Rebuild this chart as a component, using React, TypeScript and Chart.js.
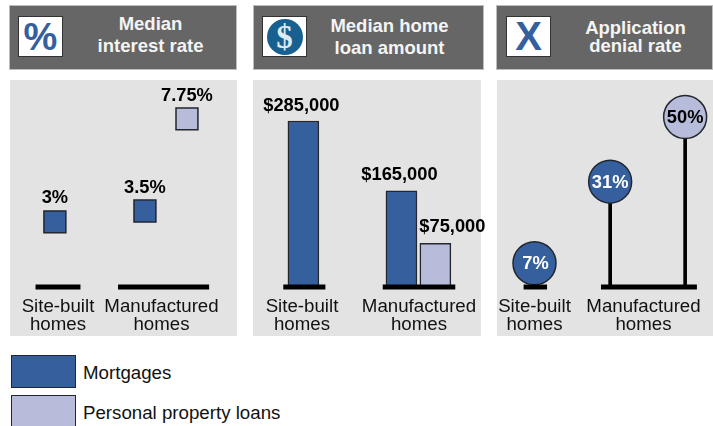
import React, { useEffect, useRef } from "react";
import { Chart, registerables } from "chart.js";

Chart.register(...registerables);

const categories = ["Site-built homes", "Manufactured homes"];
const categoryLines = [["Site-built", "homes"], ["Manufactured", "homes"]];
const seriesNames = ["Mortgages", "Personal property loans"];

const rateMortgages = [3, 3.5];
const ratePersonal = [null, 7.75];
const rateMortgageLabels = ["3%", "3.5%"];
const ratePersonalLabels = ["", "7.75%"];

const amountMortgages = [285000, 165000];
const amountPersonal = [null, 75000];
const amountMortgageLabels = ["$285,000", "$165,000"];
const amountPersonalLabels = ["", "$75,000"];

const denialMortgages = [7, 31];
const denialPersonal = [null, 50];
const denialMortgageLabels = ["7%", "31%"];
const denialPersonalLabels = ["", "50%"];

const BLUE = "#365f9e";
const LILAC = "#b7bcdb";
const EDGE = "#22262e";
const FONT = '"Liberation Sans", Arial, sans-serif';
const PAD = 25; // canvas bleed around each panel, absorbs the points' overflow padding

const valueLabelPlugin = {
  id: "valueLabels",
  afterDatasetsDraw(chart: any) {
    const ctx = chart.ctx;
    chart.data.datasets.forEach((ds: any, i: number) => {
      if (!ds.valueLabels) return;
      const meta = chart.getDatasetMeta(i);
      ds.valueLabels.forEach((text: string, j: number) => {
        const el = meta.data[j];
        if (!text || !el) return;
        const off = ds.labelOffsets[j];
        ctx.save();
        ctx.font = `bold 18.3px ${FONT}`;
        ctx.textAlign = "center";
        ctx.textBaseline = "middle";
        ctx.fillStyle = ds.labelColors ? ds.labelColors[j] : "#000";
        ctx.fillText(text, el.x + off[0], el.y + off[1]);
        ctx.restore();
      });
    });
  },
};

const baseline = (a: number, b: number) => ({
  type: "line",
  data: [{ x: a, y: 0 }, { x: b, y: 0 }],
  borderColor: "#000",
  borderWidth: 5,
  borderCapStyle: "butt",
  pointRadius: 0,
  clip: false,
  order: 0,
});

// Each mark sits at its category index plus a small offset inside the group.
const xy = (vals: (number | null)[], offsets: number[]) =>
  vals.map((v, i) => ({ x: i + offsets[i], y: v }));

function baseConfig(datasets: any[], siteMinMax: [number, number], yMax: number) {
  return {
    type: "bar",
    data: { datasets },
    plugins: [valueLabelPlugin],
    options: {
      animation: false,
      responsive: false,
      layout: { padding: { left: PAD, right: PAD, top: PAD, bottom: 0 } },
      plugins: { legend: { display: false }, tooltip: { enabled: false }, title: { display: false } },
      scales: {
        x: {
          type: "linear",
          bounds: "data",
          offset: false,
          min: siteMinMax[0],
          max: siteMinMax[1],
          grid: { display: false, drawTicks: false, offset: false },
          border: { display: false },
          afterBuildTicks: (s: any) => {
            s.ticks = categoryLines.map((_, i) => ({ value: i }));
          },
          afterFit: (s: any) => {
            s.height = 49;
            s.paddingLeft = 0;
            s.paddingRight = 0;
          },
          ticks: {
            autoSkip: false,
            maxRotation: 0,
            minRotation: 0,
            padding: 11,
            color: "#111",
            font: { family: FONT, size: 18.7, lineHeight: 0.96 },
            callback: (v: number) => categoryLines[v] ?? "",
          },
        },
        y: { display: false, min: 0, max: yMax },
      },
    },
  };
}

// Panel geometry: [left, width, site-built centre, manufactured centre]
const range = (left: number, width: number, s: number, m: number): [number, number] => [
  (left - s) / (m - s),
  (left + width - s) / (m - s),
];

const square = (vals: any[], xs: number[], color: string, labels: string[], label: string) => ({
  type: "line",
  label,
  data: xy(vals, xs),
  showLine: false,
  pointStyle: "rect",
  pointRadius: 15.5,
  pointBackgroundColor: color,
  pointBorderColor: EDGE,
  pointBorderWidth: 1.5,
  clip: false,
  order: 1,
  valueLabels: labels,
  labelOffsets: [[0, -23.5], [0, -23]],
});

const rateX = { m: [-0.03, -0.16], p: [0, 0.246] };
const rateConfig = baseConfig(
  [
    baseline(-0.217, 0.217),
    baseline(1 - 0.42, 1 + 0.46),
    square(rateMortgages, rateX.m, BLUE, rateMortgageLabels, seriesNames[0]),
    square(ratePersonal, rateX.p, LILAC, ratePersonalLabels, seriesNames[1]),
  ],
  range(10, 227, 58, 161.5),
  9.54
);

const bar = (vals: any[], xs: number[], color: string, labels: string[], offs: number[][], label: string) => ({
  type: "bar",
  label,
  grouped: false,
  data: xy(vals, xs),
  backgroundColor: color,
  borderColor: EDGE,
  borderWidth: 1.5,
  borderSkipped: false,
  barThickness: 31,
  order: 1,
  valueLabels: labels,
  labelOffsets: offs,
});

const amountConfig = baseConfig(
  [
    baseline(-0.16, 0.2),
    baseline(1 - 0.31, 1 + 0.31),
    bar(amountMortgages, [0.012, -0.15], BLUE, amountMortgageLabels, [[-2, -15], [-2, -16]], seriesNames[0]),
    bar(amountPersonal, [0, 0.14], LILAC, amountPersonalLabels, [[0, 0], [17, -16]], seriesNames[1]),
  ],
  range(253, 228, 302, 419),
  355400
);

const denialX = { m: [0, -0.306], p: [0, 0.382] };
const stem = (vals: any[], xs: number[]) => ({
  type: "bar",
  grouped: false,
  data: xy(vals, xs),
  backgroundColor: "#000",
  barThickness: 3,
  order: 3,
});
const circle = (vals: any[], xs: number[], color: string, labels: string[], colors: string[], label: string) => ({
  type: "line",
  label,
  data: xy(vals, xs),
  showLine: false,
  pointStyle: "circle",
  pointRadius: 21.5,
  pointBackgroundColor: color,
  pointBorderColor: EDGE,
  pointBorderWidth: 1.5,
  clip: false,
  order: 1,
  valueLabels: labels,
  labelColors: colors,
  labelOffsets: [[1, 1], [0, 1]],
});

const denialConfig = baseConfig(
  [
    baseline(-0.1, 0.115),
    baseline(1 - 0.39, 1 + 0.49),
    stem(denialMortgages, denialX.m),
    stem(denialPersonal, denialX.p),
    circle(denialMortgages, denialX.m, BLUE, denialMortgageLabels, ["#fff", "#fff"], seriesNames[0]),
    circle(denialPersonal, denialX.p, LILAC, denialPersonalLabels, ["#000", "#000"], seriesNames[1]),
  ],
  range(497, 216, 534.5, 643.5),
  60.9
);

function Panel({ left, width }: { left: number; width: number }) {
  return <div style={{ position: "absolute", left, top: 80, width, height: 256, background: "#e3e3e3" }} />;
}

function PanelChart({ config, left, width }: { config: any; left: number; width: number }) {
  const ref = useRef<HTMLCanvasElement>(null);
  useEffect(() => {
    const chart = new Chart(ref.current as any, config);
    return () => chart.destroy();
  }, []);
  return (
    <canvas
      ref={ref}
      width={width + 2 * PAD}
      height={256 + PAD}
      style={{ position: "absolute", left: left - PAD, top: 80 - PAD, width: width + 2 * PAD, height: 256 + PAD }}
    />
  );
}

function Header({ left, width, lines, tops, textCenter, icon, iconLeft }: any) {
  return (
    <div style={{ position: "absolute", left, top: 5, width, height: 65, background: "#666", outline: "1px solid #bdbdbd", outlineOffset: -1 }}>
      <div
        style={{
          position: "absolute",
          left: iconLeft - left,
          top: 11,
          width: 45,
          height: 41,
          boxSizing: "border-box",
          background: "#fff",
          border: "1.5px solid #333",
          overflow: "hidden",
        }}
      >
        {icon}
      </div>
      {lines.map((t: string, i: number) => (
        <div
          key={t}
          style={{
            position: "absolute",
            left: textCenter - left - 90,
            width: 180,
            top: tops[i] - 5 - 12,
            lineHeight: "24px",
            textAlign: "center",
            color: "#f4f4f4",
            font: `bold 18.5px/24px ${FONT}`,
          }}
        >
          {t}
        </div>
      ))}
    </div>
  );
}

const glyph = (extra: any): any => ({
  position: "absolute",
  left: 0,
  right: 0,
  textAlign: "center",
  fontWeight: "bold",
  ...extra,
});

function LegendItem({ top, color, text, textY }: any) {
  return (
    <>
      <div
        style={{
          position: "absolute",
          left: 11,
          top,
          width: 65,
          height: 33,
          boxSizing: "border-box",
          background: color,
          border: `1.5px solid ${EDGE}`,
        }}
      />
      <div style={{ position: "absolute", left: 83, top: textY - 12, color: "#111", font: `18.7px/24px ${FONT}`, whiteSpace: "nowrap" }}>
        {text}
      </div>
    </>
  );
}

export default function App() {
  useEffect(() => {
    document.body.style.margin = "0";
  }, []);
  return (
    <div style={{ position: "fixed", left: 0, top: 0, width: 713, height: 426, overflow: "hidden", background: "#fff" }} aria-label={categories.join(", ")}>
      <Header
        left={9}
        width={228}
        iconLeft={18}
        textCenter={150.5}
        lines={["Median", "interest rate"]}
        tops={[24, 46]}
        icon={<div style={glyph({ top: 0, color: "#35609f", font: `bold 38px/40px ${FONT}` })}>%</div>}
      />
      <Header
        left={253}
        width={231}
        iconLeft={262}
        textCenter={389.5}
        lines={["Median home", "loan amount"]}
        tops={[26, 48]}
        icon={
          <div style={{ position: "absolute", left: 3.5, top: 1.5, width: 36, height: 36, borderRadius: "50%", background: "#17608f" }}>
            <div style={glyph({ top: 0, color: "#dfeaf2", font: `bold 33px/36px "Liberation Serif", serif` })}>$</div>
          </div>
        }
      />
      <Header
        left={496}
        width={217}
        iconLeft={506}
        textCenter={635.5}
        lines={["Application", "denial rate"]}
        tops={[28, 46]}
        icon={<div style={glyph({ top: -1, color: "#35609f", font: `bold 40px/40px ${FONT}` })}>X</div>}
      />
      <Panel left={10} width={227} />
      <Panel left={253} width={228} />
      <Panel left={497} width={216} />
      <PanelChart config={rateConfig} left={10} width={227} />
      <PanelChart config={amountConfig} left={253} width={228} />
      <PanelChart config={denialConfig} left={497} width={216} />
      <LegendItem top={355} color={BLUE} text={seriesNames[0]} textY={373} />
      <LegendItem top={395} color={LILAC} text={seriesNames[1]} textY={413} />
    </div>
  );
}
